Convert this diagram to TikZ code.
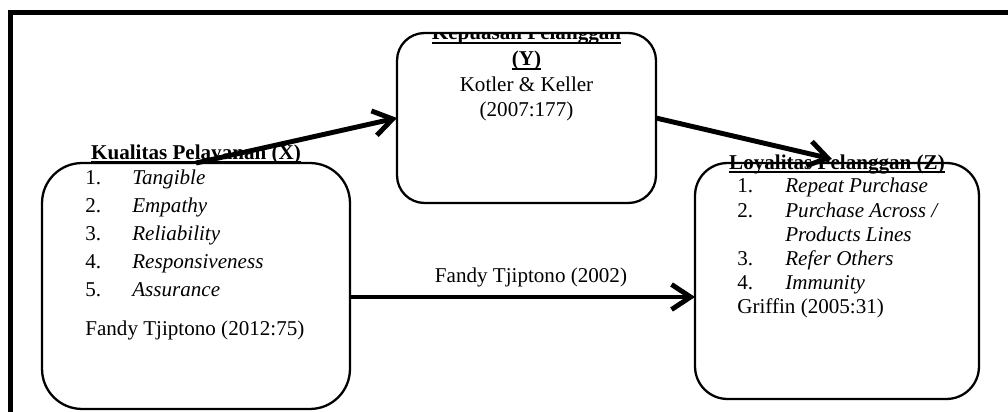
\documentclass[tikz,border=0pt]{standalone}
\usepackage{fontspec}
\setmainfont{Liberation Serif}
\usetikzlibrary{arrows.meta}
\newsavebox{\myulbox}
\newcommand{\ulbf}[1]{\sbox{\myulbox}{\bfseries #1}\rlap{\rule[-2.2pt]{\wd\myulbox}{1.1pt}}\usebox{\myulbox}}
\newcommand{\itemX}[2]{\makebox[0.94cm][l]{#1}\textit{#2}}
\newcommand{\itemZ}[2]{\makebox[0.96cm][l]{#1}\textit{#2}}
\begin{document}
\begin{tikzpicture}[x=0.02cm,y=-0.02cm,
  box/.style={draw, line width=1.3pt, inner sep=0pt, outer sep=0pt},
  txt/.style={inner sep=0pt, font=\fontsize{12}{14}\selectfont},
  conn/.style={line width=2.8pt, -{Straight Barb[length=0.38cm,width=0.5cm]}}]
\useasboundingbox (0,0) rectangle (1008,412);
\fill[white] (0,0) rectangle (1008,412);
% outer frame
\draw[line width=3.1pt, line join=miter] (10.3,412) -- (10.3,12.3) -- (1008,12.3);
% boxes
\node[box, minimum width=6.16cm, minimum height=4.92cm, rounded corners=0.8cm] (X) at (196,286) {};
\node[box, minimum width=5.18cm, minimum height=3.4cm, rounded corners=0.55cm] (Y) at (526.5,118) {};
\node[box, minimum width=5.68cm, minimum height=4.72cm, rounded corners=0.65cm] (Z) at (837,281) {};
% middle box text
\begin{scope}
\clip (380,33) rectangle (680,60);
\node[txt, anchor=base] (Yt) at (526.5,40) {\ulbf{Kepuasan Pelanggan}};
\end{scope}
\node[txt, anchor=base] (Yt2) at (526.5,66) {\ulbf{(Y)}};
\node[txt, anchor=base] (Ya) at (526.5,92) {Kotler \& Keller};
\node[txt, anchor=base] (Yb) at (526.5,117) {(2007:177)};
% left box text
\node[txt, anchor=base] (Xt) at (196,159) {\ulbf{Kualitas Pelayanan (X)}};
\node[txt, anchor=base west] (X1) at (85,185) {\itemX{1.}{Tangible}};
\node[txt, anchor=base west] (X2) at (85,212.5) {\itemX{2.}{Empathy}};
\node[txt, anchor=base west] (X3) at (85,240.5) {\itemX{3.}{Reliability}};
\node[txt, anchor=base west] (X4) at (85,268) {\itemX{4.}{Responsiveness}};
\node[txt, anchor=base west] (X5) at (85,296.5) {\itemX{5.}{Assurance}};
\node[txt, anchor=base west] (Xs) at (85,335) {Fandy Tjiptono (2012:75)};
% right box text
\node[txt, anchor=base] (Zt) at (837,169.5) {\ulbf{Loyalitas Pelanggan (Z)}};
\node[txt, anchor=base west] (Z1) at (737,193) {\itemZ{1.}{Repeat Purchase}};
\node[txt, anchor=base west] (Z2) at (737,217) {\itemZ{2.}{Purchase Across /}};
\node[txt, anchor=base west] (Z2b) at (785,241) {\textit{Products Lines}};
\node[txt, anchor=base west] (Z3) at (737,265) {\itemZ{3.}{Refer Others}};
\node[txt, anchor=base west] (Z4) at (737,289) {\itemZ{4.}{Immunity}};
\node[txt, anchor=base west] (Zs) at (737,313) {Griffin (2005:31)};
% connectors
\coordinate (a3) at ([yshift=-0.22cm]X.east);
\draw[conn] (X.north) -- (Y.west);
\draw[conn] (Y.east) -- ([xshift=-0.1cm,yshift=0.08cm]Z.north);
\draw[conn] (a3) -- (a3 -| Z.west);
\node[txt, anchor=base] (L3) at (531,282) {Fandy Tjiptono (2002)};
\end{tikzpicture}
\end{document}
